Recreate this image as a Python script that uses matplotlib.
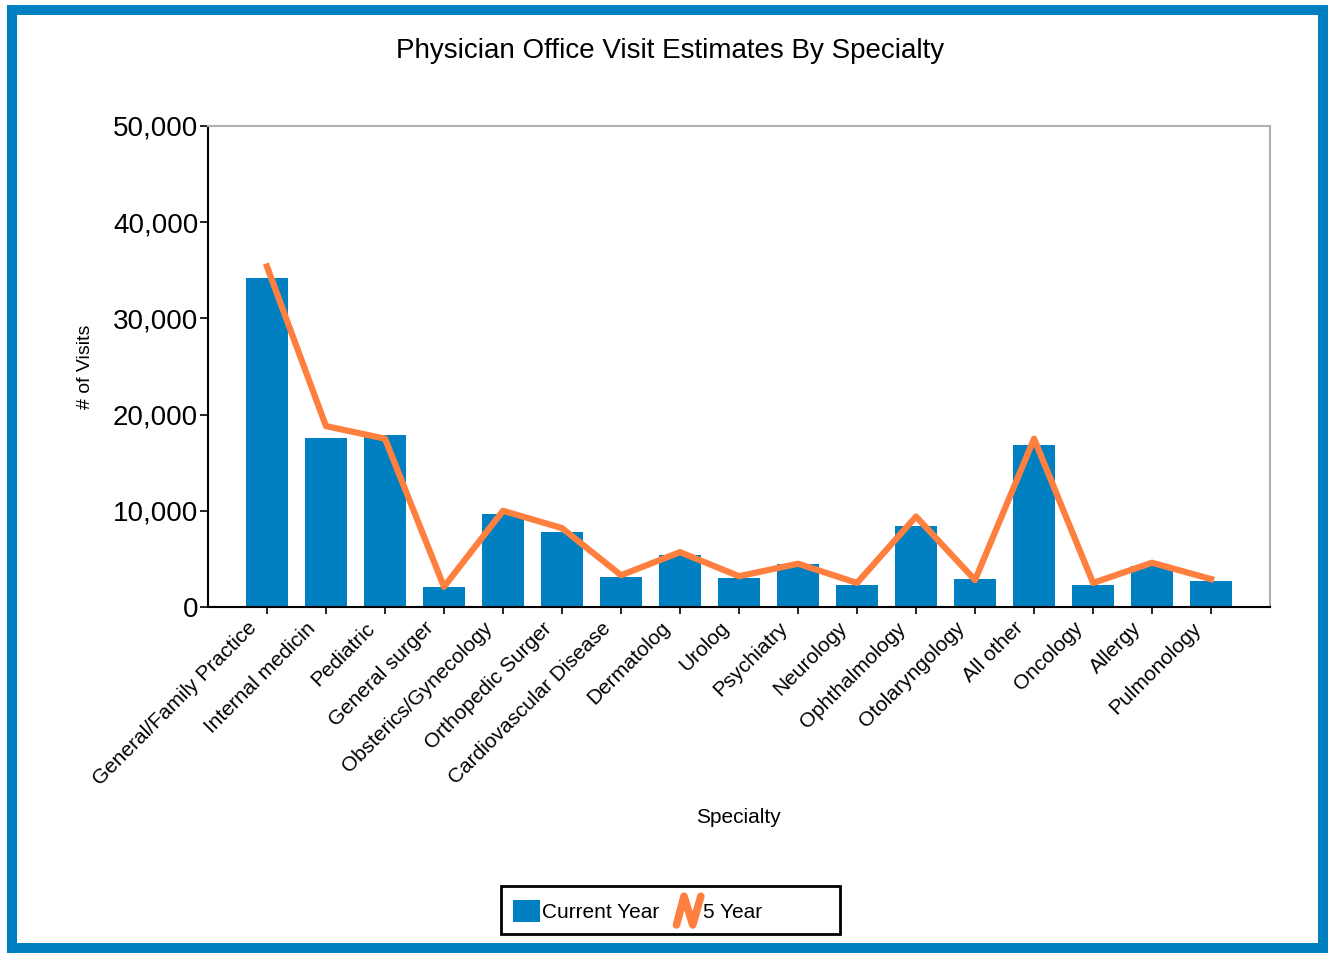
import matplotlib.pyplot as plt
from matplotlib.legend_handler import HandlerBase
from matplotlib.lines import Line2D
from matplotlib.patches import Patch, Rectangle
from matplotlib.ticker import FuncFormatter, MultipleLocator
from matplotlib.transforms import ScaledTranslation

plt.rcParams['font.family'] = ['Liberation Sans', 'DejaVu Sans']

specialties = ["General/Family Practice", "Internal medicin", "Pediatric", "General surger",
               "Obsterics/Gynecology", "Orthopedic Surger", "Cardiovascular Disease", "Dermatolog",
               "Urolog", "Psychiatry", "Neurology", "Ophthalmology", "Otolaryngology",
               "All other", "Oncology", "Allergy", "Pulmonology"]
current_year = [34200, 17600, 17900, 2100, 9700, 7800, 3100, 5400,
                3000, 4500, 2300, 8400, 2900, 16800, 2300, 4300, 2700]
five_year = [35400, 18800, 17500, 2100, 10000, 8200, 3300, 5700,
             3200, 4500, 2500, 9400, 2800, 17500, 2500, 4600, 2900]

BLUE = "#0080C0"
ORANGE = "#FF7F3F"


class ZigzagHandler(HandlerBase):
    def create_artists(self, legend, orig_handle, xdescent, ydescent, width, height, fontsize, trans):
        x0, y0 = -xdescent, -ydescent - 0.15 * height
        h = height * 1.3
        xs = [x0 + width * f for f in (0.1, 0.38, 0.7, 1.0)]
        ys = [y0, y0 + h, y0, y0 + h]
        line = Line2D(xs, ys, color=orig_handle.get_color(), linewidth=5.5,
                      solid_capstyle="round", solid_joinstyle="round", transform=trans)
        return [line]


fig = plt.figure(figsize=(13.33, 9.58), dpi=100)
ax = fig.add_axes([0.156, 0.3664, 0.7968, 0.5021])

x = list(range(len(specialties)))
ax.bar(x, current_year, width=0.71, color=BLUE, zorder=2)
ax.plot(x, five_year, color=ORANGE, linewidth=4.5, solid_joinstyle="round", zorder=3)

ax.set_xlim(-1, len(specialties))
ax.set_ylim(0, 50000)
ax.yaxis.set_major_locator(MultipleLocator(10000))
ax.yaxis.set_major_formatter(FuncFormatter(lambda v, p: f"{int(v):,}"))
ax.tick_params(axis="y", labelsize=20, length=6, width=1.2, direction="out", pad=1)
ax.tick_params(axis="x", length=5, width=1.2, direction="out", pad=4)
ax.set_xticks(x)
ax.set_xticklabels(specialties, rotation=45, ha="right", rotation_mode="anchor", fontsize=15)
# nudge the slanted labels left, like the original
shift = ScaledTranslation(-20 / 100, 1 / 100, fig.dpi_scale_trans)
for lbl in ax.get_xticklabels():
    lbl.set_transform(lbl.get_transform() + shift)

for side in ("top", "right"):
    ax.spines[side].set_color("#B0B0B0")
    ax.spines[side].set_linewidth(1.5)
for side in ("left", "bottom"):
    ax.spines[side].set_color("black")
    ax.spines[side].set_linewidth(1.5)

fig.text(0.503, 0.947, "Physician Office Visit Estimates By Specialty", ha="center", va="center", fontsize=20)
fig.text(0.5536, 0.147, "Specialty", ha="center", va="center", fontsize=15)
fig.text(0.0638, 0.617, "# of Visits", ha="center", va="center", rotation=90, fontsize=14)

bar_handle = Patch(facecolor=BLUE, edgecolor="none")
line_handle = Line2D([], [], color=ORANGE)
leg = fig.legend([bar_handle, line_handle], ["Current Year", "5 Year"],
                 handler_map={Line2D: ZigzagHandler()},
                 loc="center left", bbox_to_anchor=(494 / 1333, 0.0495), ncol=2, fontsize=15,
                 frameon=False, handlelength=1.3, handleheight=1.25, handletextpad=0.1,
                 columnspacing=0.7, borderpad=0.4)

legend_box = Rectangle((501 / 1333, 1 - 934 / 958), 339 / 1333, 48 / 958,
                       transform=fig.transFigure, fill=False, edgecolor="black", linewidth=2)
fig.patches.append(legend_box)

border = Rectangle((11.5 / 1333, 10 / 958), (1323 - 11.5) / 1333, (948 - 10) / 958,
                   transform=fig.transFigure, fill=False, edgecolor=BLUE, linewidth=7.2)
fig.patches.append(border)

fig.savefig("out.png", dpi=100)
